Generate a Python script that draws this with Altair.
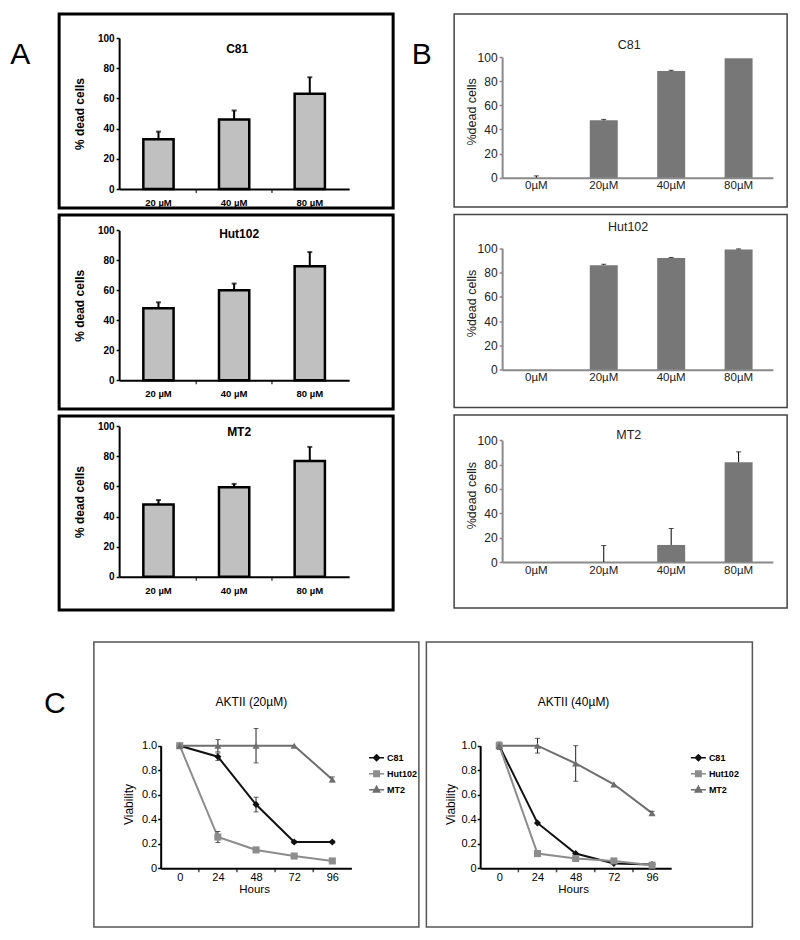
import altair as alt
import pandas as pd

FONT = "Liberation Sans"

# ---------------- Panel A data ----------------
a_doses = ["20 µM", "40 µM", "80 µM"]
a_yticks = [0, 20, 40, 60, 80, 100]
a_c81 = [33, 46, 63]
a_c81_err = [5, 6, 11]
a_hut102 = [48, 60, 76]
a_hut102_err = [4, 4.5, 9.5]
a_mt2 = [48, 59.5, 77]
a_mt2_err = [3, 2.2, 9.3]
a_divider_doses = ["40 µM", "80 µM"]   # x-axis ticks sit between these bands and the previous one

# ---------------- Panel B data ----------------
b_doses = ["0µM", "20µM", "40µM", "80µM"]
b_yticks = [0, 20, 40, 60, 80, 100]
b_c81 = [0, 47.5, 88.5, 99]
b_c81_err = [1.5, 0.8, 0.5, 0]
b_hut102 = [0, 86, 92, 99]
b_hut102_err = [0, 0.8, 0.4, 0.4]
b_mt2 = [0, 0, 14, 82]
b_mt2_err = [0, 13.5, 13.5, 8.5]

# ---------------- Panel C data ----------------
hours = [0, 24, 48, 72, 96]
hour_minor_ticks = [12, 36, 60, 84]
c_yticks = [0, 0.2, 0.4, 0.6, 0.8, 1.0]
c_series = ["C81", "Hut102", "MT2"]
c_colors = ["#111111", "#8c8c8c", "#6e6e6e"]
c_shapes = ["diamond", "square", "triangle-up"]
c_legend_paths = [
    "M-1,0H1M0,-0.4L0.4,0L0,0.4L-0.4,0Z",
    "M-1,0H1M-0.36,-0.36H0.36V0.36H-0.36Z",
    "M-1,0H1M0,-0.45L0.42,0.3H-0.42Z",
]
c20_c81 = [1.0, 0.91, 0.52, 0.215, 0.215]
c20_c81_err = [0, 0.03, 0.06, 0.01, 0.01]
c20_hut102 = [1.0, 0.255, 0.15, 0.10, 0.06]
c20_hut102_err = [0, 0.045, 0, 0, 0]
c20_mt2 = [1.0, 1.0, 1.0, 1.0, 0.725]
c20_mt2_err = [0, 0.05, 0.14, 0, 0.02]
c40_c81 = [1.0, 0.37, 0.12, 0.04, 0.03]
c40_c81_err = [0.03, 0, 0, 0, 0]
c40_hut102 = [1.0, 0.12, 0.08, 0.06, 0.025]
c40_hut102_err = [0, 0, 0, 0, 0]
c40_mt2 = [1.0, 1.0, 0.855, 0.685, 0.45]
c40_mt2_err = [0, 0.06, 0.145, 0, 0.015]


def text_layer(txt, x, y, size, weight="normal", align="center", baseline="middle", color="black"):
    return alt.Chart(pd.DataFrame({"t": [txt]})).mark_text(
        font=FONT, fontSize=size, fontWeight=weight, align=align, baseline=baseline, color=color
    ).encode(x=alt.value(x), y=alt.value(y), text="t:N")


def a_panel(name, vals, errs, y0, y100, title_y, title_x=179, letter=None):
    W, H = 334, 194
    df = pd.DataFrame({"dose": a_doses, "v": vals, "e": errs})
    df["top"] = df["v"] + df["e"]
    x = alt.X("dose:N", scale=alt.Scale(domain=a_doses, range=[60, 290], paddingInner=0.6, paddingOuter=0.32),
              axis=alt.Axis(title=None, offset=y0 - H, ticks=False, tickSize=0, labelAngle=0, labelPadding=13.5,
                            labelBaseline="middle", labelFont=FONT, labelFontSize=9.5, labelFontWeight="bold",
                            labelColor="black", domainColor="black", domainWidth=2, grid=False))
    ysc = alt.Scale(domain=[0, 100], range=[y0, y100], nice=False)
    yax = alt.Axis(values=a_yticks, offset=-60, tickSize=3, tickColor="black", tickWidth=1.5, labelPadding=2,
                   labelFont=FONT, labelFontSize=10, labelFontWeight="bold", labelColor="black",
                   domainColor="black", domainWidth=2, grid=False, title="% dead cells",
                   titleX=-40, titleY=(y0 + y100) / 2, titleBaseline="middle", titleAlign="center",
                   titleFont=FONT, titleFontSize=12, titleFontWeight="bold", titleColor="black")
    base = alt.Chart(df)
    bars = base.mark_bar(color="#c0c0c0", stroke="black", strokeWidth=2.5).encode(
        x=x, y=alt.Y("v:Q", scale=ysc, axis=yax))
    err = base.mark_rule(color="black", strokeWidth=2).encode(
        x=x, y=alt.Y("v:Q", scale=ysc, axis=yax), y2="top:Q")
    cap = base.mark_tick(color="black", size=5, thickness=2).encode(
        x=x, y=alt.Y("top:Q", scale=ysc, axis=yax))
    step = 230 / (3 - 0.6 + 2 * 0.32)
    divs = alt.Chart(pd.DataFrame({"dose": a_divider_doses, "v": [0] * len(a_divider_doses)})).mark_tick(
        orient="vertical", size=4, thickness=1.5, xOffset=-step / 2, yOffset=2, color="black"
    ).encode(x=x, y=alt.Y("v:Q", scale=ysc, axis=yax))
    layers = [bars, err, cap, divs, text_layer(name, title_x, title_y, 12, "bold")]
    if letter:
        layers.append(text_layer(letter, -49, 50, 30, align="left", baseline="alphabetic"))
    return alt.layer(*layers).properties(
        width=W, height=H, view=alt.ViewBackground(stroke="black", strokeWidth=3))


def b_panel(name, vals, errs, y0, y100, title_x, title_y, letter=None):
    W, H = 333, 193
    df = pd.DataFrame({"dose": b_doses, "v": vals, "e": errs})
    df["top"] = df["v"] + df["e"]
    x = alt.X("dose:N", scale=alt.Scale(domain=b_doses, range=[48, 318.7], paddingInner=0.585, paddingOuter=0.3),
              axis=alt.Axis(title=None, offset=y0 - H, ticks=False, tickSize=0, labelAngle=0, labelPadding=8,
                            labelBaseline="middle", labelFont=FONT, labelFontSize=11.5, labelColor="#222222",
                            domainColor="#8a8a8a", domainWidth=2, grid=False))
    ysc = alt.Scale(domain=[0, 100], range=[y0, y100], nice=False)
    yax = alt.Axis(values=b_yticks, offset=-48, tickSize=3, tickColor="#8a8a8a", tickWidth=1.5, labelPadding=2,
                   labelFont=FONT, labelFontSize=12, labelColor="#222222",
                   domainColor="#8a8a8a", domainWidth=2, grid=False, title="%dead cells",
                   titleX=-31, titleY=(y0 + y100) / 2 - 6, titleBaseline="middle", titleAlign="center",
                   titleFont=FONT, titleFontSize=12.5, titleFontWeight="normal", titleColor="#222222")
    base = alt.Chart(df)
    bars = base.mark_bar(color="#777777").encode(x=x, y=alt.Y("v:Q", scale=ysc, axis=yax))
    ebase = base.transform_filter("datum.e > 0")
    err = ebase.mark_rule(color="black", strokeWidth=1).encode(
        x=x, y=alt.Y("v:Q", scale=ysc, axis=yax), y2="top:Q")
    cap = ebase.mark_tick(color="black", size=5, thickness=1).encode(
        x=x, y=alt.Y("top:Q", scale=ysc, axis=yax))
    layers = [bars, err, cap, text_layer(name, title_x, title_y, 12.5, color="#222222")]
    if letter:
        layers.append(text_layer(letter, -42.3, 50, 30, align="left", baseline="alphabetic"))
    return alt.layer(*layers).properties(
        width=W, height=H, view=alt.ViewBackground(stroke="#444444", strokeWidth=1.5))


def c_panel(title, vals, errs, W, x_rng, title_x, legend_x, ytitle_x, hours_x, letter=None):
    H = 285
    y0, y1 = 226.3, 103.7
    rows = []
    for s, vv, ee in zip(c_series, vals, errs):
        for h, v, e in zip(hours, vv, ee):
            rows.append({"series": s, "hours": h, "v": v, "e": e, "lo": v - e, "hi": v + e})
    df = pd.DataFrame(rows)
    xsc = alt.Scale(domain=[-12, 108], range=x_rng, nice=False, zero=False)
    xax = alt.Axis(values=hours, format="d", offset=y0 - H, ticks=False, tickSize=0, labelPadding=9,
                   labelBaseline="middle", labelFlush=False, labelFont=FONT, labelFontSize=11,
                   labelColor="black", domainColor="black", domainWidth=2, grid=False,
                   title="Hours", titleX=hours_x, titleY=21, titleBaseline="middle", titleAlign="center",
                   titleFont=FONT, titleFontSize=11.5, titleFontWeight="normal", titleColor="black")
    ysc = alt.Scale(domain=[0, 1], range=[y0, y1], nice=False, zero=False)
    yax = alt.Axis(values=c_yticks, labelExpr="datum.value == 0 ? '0' : format(datum.value, '.1f')",
                   offset=-x_rng[0], tickSize=3, tickColor="black", tickWidth=1.5, labelPadding=1,
                   labelFlush=False, labelFont=FONT, labelFontSize=11, labelColor="black",
                   domainColor="black", domainWidth=2, grid=False, title="Viability",
                   titleX=ytitle_x, titleY=162, titleBaseline="middle", titleAlign="center",
                   titleFont=FONT, titleFontSize=12, titleFontWeight="normal", titleColor="black")
    X = alt.X("hours:Q", scale=xsc, axis=xax)

    def Y(f):
        return alt.Y(f, type="quantitative", scale=ysc, axis=yax)

    cscale = alt.Scale(domain=c_series, range=c_colors)
    minor = alt.Chart(pd.DataFrame({"hours": hour_minor_ticks, "v": [0] * len(hour_minor_ticks)})).mark_tick(
        orient="vertical", size=4, thickness=1.5, yOffset=2, color="black").encode(x=X, y=Y("v"))
    base = alt.Chart(df)
    lines = base.mark_line(strokeWidth=2).encode(
        x=X, y=Y("v"), color=alt.Color("series:N", scale=cscale, legend=None))
    ebase = base.transform_filter("datum.e > 0")
    err = ebase.mark_rule(color="#222222", strokeWidth=1).encode(x=X, y=Y("lo"), y2="hi:Q")
    caps = ebase.transform_fold(["lo", "hi"], as_=["k", "cap"]).mark_tick(
        orient="horizontal", size=5, thickness=1, color="#222222").encode(x=X, y=Y("cap"))
    pts = base.mark_point(filled=True, opacity=1, size=50).encode(
        x=X, y=Y("v"),
        color=alt.Color("series:N", scale=cscale, legend=None),
        shape=alt.Shape("series:N", scale=alt.Scale(domain=c_series, range=c_shapes), legend=None))
    leg = alt.Legend(title=None, orient="none", legendX=legend_x, legendY=107.2, symbolSize=225,
                     symbolStrokeWidth=1.5, labelFont=FONT, labelFontSize=9, labelFontWeight="bold",
                     labelColor="black", labelOffset=2, rowPadding=1, padding=0)
    legend_layer = base.transform_filter("datum.v > 5").mark_point(filled=True, opacity=1, strokeWidth=1.5).encode(
        x=X, y=Y("v"),
        color=alt.Color("series:N", scale=alt.Scale(domain=c_series, range=c_colors), legend=leg),
        stroke=alt.Stroke("series:N", scale=alt.Scale(domain=c_series, range=c_colors), legend=leg),
        shape=alt.Shape("series:N", scale=alt.Scale(domain=c_series, range=c_legend_paths), legend=leg))
    layers = [minor, lines, err, caps, pts, legend_layer, text_layer(title, title_x, 59.7, 12)]
    if letter:
        layers.append(text_layer(letter, -50, 71, 30, align="left", baseline="alphabetic"))
    return alt.layer(*layers).resolve_scale(
        color="independent", stroke="independent", shape="independent"
    ).properties(width=W, height=H, view=alt.ViewBackground(stroke="#555555", strokeWidth=1.5))


a1 = a_panel("C81", a_c81, a_c81_err, 175, 24, 35, 178, letter="A")
a2 = a_panel("Hut102", a_hut102, a_hut102_err, 165.3, 15.3, 19, 180)
a3 = a_panel("MT2", a_mt2, a_mt2_err, 160.7, 10.3, 16, 180)

b1 = b_panel("C81", b_c81, b_c81_err, 163.7, 43, 175, 31, letter="B")
b2 = b_panel("Hut102", b_hut102, b_hut102_err, 155.3, 33.7, 174, 12.7)
b3 = b_panel("MT2", b_mt2, b_mt2_err, 147, 25.3, 174.7, 19.7)

c1 = c_panel("AKTII (20µM)", [c20_c81, c20_hut102, c20_mt2], [c20_c81_err, c20_hut102_err, c20_mt2_err],
             325, [66.8, 257.5], 157.5, 274.2, -32.6, 160.2, letter="C")
c2 = c_panel("AKTII (40µM)", [c40_c81, c40_hut102, c40_mt2], [c40_c81_err, c40_hut102_err, c40_mt2_err],
             326, [53.8, 244.8], 147.2, 263.5, -29.3, 146.7)

col_a = alt.vconcat(a1, a2, a3, spacing=3)
col_b = alt.vconcat(b1, b2, b3, spacing=5.5)
top_row = alt.hconcat(col_a, col_b, spacing=15)
bottom_row = alt.hconcat(c1, c2, spacing=5.5)

chart = alt.vconcat(top_row, bottom_row, spacing=29, center=True).properties(
    padding={"left": 0, "top": 4, "right": 0, "bottom": 0}, background="white"
).configure(font=FONT).configure_axis(grid=False)

chart.save("out.html", embed_options={"renderer": "svg", "actions": False})
